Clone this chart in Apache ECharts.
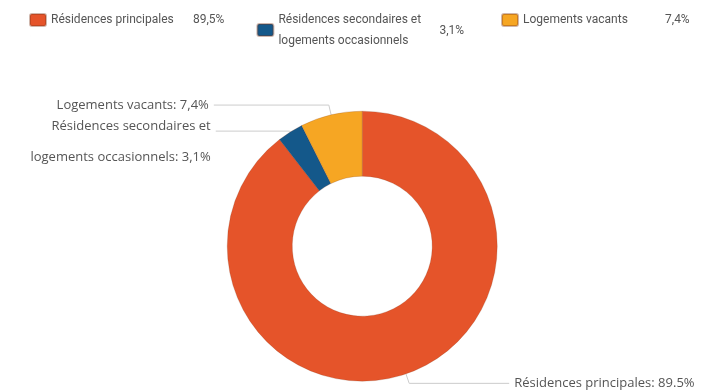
<!DOCTYPE html>
<html>
<head>
<meta charset="utf-8">
<script src="https://cdn.jsdelivr.net/npm/echarts@6/dist/echarts.min.js"></script>
<style>
  html, body { margin: 0; padding: 0; background: #fff; }
  #chart { width: 702px; height: 392px; }
</style>
</head>
<body>
<div id="chart"></div>
<script>
// catégories et valeurs (%)
const categories = ['Résidences principales', 'Résidences secondaires et logements occasionnels', 'Logements vacants']
const values = [89.5, 3.1, 7.4]
const legendNames = [['Résidences principales'], ['Résidences secondaires et', 'logements occasionnels'], ['Logements vacants']]
const legendValues = ['89,5%', '3,1%', '7,4%']
const pieLabels = ['Résidences principales: 89.5%', 'Résidences secondaires et\nlogements occasionnels: 3,1%', 'Logements vacants: 7,4%']
const colors = ['#e5542a', '#14588a', '#f6a623']

const chart = echarts.init(document.getElementById('chart'))

// longueurs des traits de rappel par part
const lineLen = [[10, 100], [1, 74], [10, 115]]

// icônes : rectangle arrondi en haut (une ligne) ou en bas (deux lignes)
const iconTop = 'path://M2,0H14Q16,0 16,2V10Q16,12 14,12H2Q0,12 0,10V2Q0,0 2,0ZM0,22L0.01,22'
const iconLow = 'path://M0,0L0.01,0M2,10H14Q16,10 16,12V20Q16,22 14,22H2Q0,22 0,20V12Q0,10 2,10Z'

const font = 'Roboto, sans-serif'

const option = {
  animation: false,
  color: colors,
  legend: {
    left: 24,
    top: -6,
    width: 690,
    itemWidth: 16,
    itemHeight: 22,
    itemGap: 32,
    data: categories.map(function (c, i) {
      const two = legendNames[i].length > 1
      return {
        name: c,
        icon: two ? iconLow : iconTop,
        textStyle: { padding: two ? [10, 0, 0, 0] : [0, 0, 10, 0] }
      }
    }),
    textStyle: {
      fontFamily: font,
      fontSize: 12,
      color: '#555',
      lineHeight: 21,
      rich: {
        n: { width: 142, fontFamily: font, fontSize: 12, color: '#555' },
        n2: { width: 161, fontFamily: font, fontSize: 12, color: '#555' },
        v: { fontFamily: font, fontSize: 12, color: '#555' },
        v2: { fontFamily: font, fontSize: 12, color: '#555', verticalAlign: 'top', padding: [16, 5, 0, 0], lineHeight: 21 }
      }
    },
    formatter: function (name) {
      const i = categories.indexOf(name)
      const lines = legendNames[i]
      if (lines.length > 1) {
        return '{n2|' + lines[0] + '}{v2|' + legendValues[i] + '}\n{n2|' + lines[1] + '}'
      }
      return '{n|' + lines[0] + '}{v|' + legendValues[i] + '}'
    }
  },
  series: [
    {
      type: 'pie',
      center: ['51.6%', '62.8%'],
      radius: [70, 135],
      startAngle: 90,
      clockwise: true,
      avoidLabelOverlap: false,
      labelLayout: { hideOverlap: false },
      itemStyle: {
        borderColor: 'rgba(120,50,20,0.35)',
        borderWidth: 0.6
      },
      label: {
        show: true,
        fontFamily: 'Open Sans, sans-serif',
        fontSize: 13,
        color: '#555',
        lineHeight: 31,
        overflow: 'none',
        rich: {
          a: { fontFamily: 'Open Sans, sans-serif', fontSize: 13, color: '#555', lineHeight: 52 },
          b: { fontFamily: 'Open Sans, sans-serif', fontSize: 13, color: '#555', lineHeight: 10 }
        },
        formatter: function (p) {
          const parts = pieLabels[p.dataIndex].split('\n')
          if (parts.length > 1) return '{a|' + parts[0] + '}\n{b|' + parts[1] + '}'
          return parts[0]
        }
      },
      labelLine: {
        show: true,
        lineStyle: { color: '#ccc', width: 1 }
      },
      data: categories.map(function (c, i) {
        return {
          name: c,
          value: values[i],
          labelLine: { length: lineLen[i][0], length2: lineLen[i][1] }
        }
      })
    }
  ]
}

chart.setOption(option)
</script>
</body>
</html>
